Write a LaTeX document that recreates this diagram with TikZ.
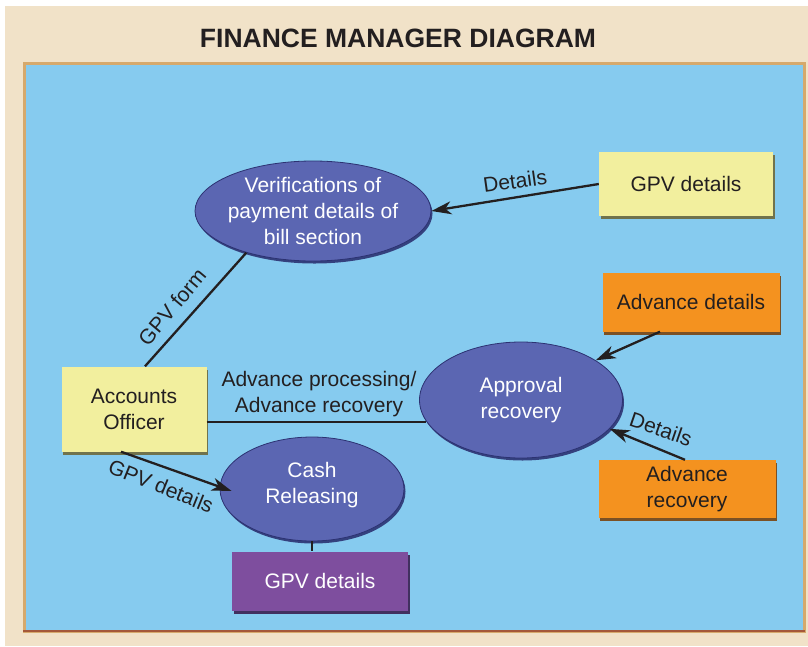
\documentclass[tikz,border=0pt]{standalone}
\usepackage{fontspec}
\setmainfont{Liberation Sans}
\usetikzlibrary{arrows.meta,shapes.geometric,shadows}
\definecolor{beige}{HTML}{F1E2C8}
\definecolor{panelblue}{HTML}{86CBEF}
\definecolor{paneledge}{HTML}{D6A96C}
\definecolor{paneldark}{HTML}{A4583A}
\definecolor{ellfill}{HTML}{5B66B2}
\definecolor{ellshade}{HTML}{2C3272}
\definecolor{yellowbox}{HTML}{F2EF9E}
\definecolor{yellowshade}{HTML}{6E6A3C}
\definecolor{orangebox}{HTML}{F4921F}
\definecolor{orangeshade}{HTML}{7A4410}
\definecolor{purplebox}{HTML}{7E4E9E}
\definecolor{purpleshade}{HTML}{3A2050}
\definecolor{ink}{HTML}{231F20}
\tikzset{
  ell/.style={ellipse, inner sep=0pt, fill=ellfill, draw=ellshade, line width=0.8pt,
    drop shadow={shadow xshift=1.5pt, shadow yshift=-2.5pt, fill=ellshade, opacity=0.9}},
  elltext/.style={text=white, align=center, font=\fontsize{21}{26}\selectfont, inner sep=0pt},
  box/.style={rectangle, inner sep=0pt, align=center, text=ink,
    font=\fontsize{21}{26}\selectfont},
  ybox/.style={box, fill=yellowbox,
    drop shadow={shadow xshift=1.5pt, shadow yshift=-3pt, fill=yellowshade, opacity=0.9}},
  obox/.style={box, fill=orangebox,
    drop shadow={shadow xshift=1.5pt, shadow yshift=-3pt, fill=orangeshade, opacity=0.9}},
  pbox/.style={box, fill=purplebox, text=white,
    drop shadow={shadow xshift=1.5pt, shadow yshift=-3pt, fill=purpleshade, opacity=0.9}},
  conn/.style={draw=ink, line width=2.3pt},
  arr/.style={conn, -{Stealth[length=20pt, width=13pt, inset=6pt]}},
  lbl/.style={text=ink, font=\fontsize{21}{26}\selectfont, align=center, inner sep=0pt},
  titlestyle/.style={text=ink, font=\fontsize{26.5}{30}\selectfont\bfseries, inner sep=0pt}
}
\begin{document}
\begin{tikzpicture}[x=1pt, y=-1pt]
\useasboundingbox (0,0) rectangle (808,646);
\fill[white] (0,0) rectangle (808,646);
\fill[beige] (5,6) rectangle (808,646);
\node[titlestyle] (title) at (398,38) {FINANCE MANAGER DIAGRAM};
\fill[panelblue, draw=paneledge, line width=3pt] (24,63) rectangle (804,631);
\draw[paneldark, line width=2.5pt] (23,631) -- (805,631);

% ellipses
\node[ell, minimum width=236pt, minimum height=100pt,
  label={[elltext]center:Verifications of\\payment details of\\bill section}] (ver) at (313,211) {};
\node[ell, minimum width=203pt, minimum height=116pt,
  label={[elltext]center:Approval\\recovery}] (app) at (521,400) {};
\node[ell, minimum width=184pt, minimum height=104pt,
  label={[elltext, yshift=4pt]center:Cash\\Releasing}] (cash) at (312,489) {};

% boxes
\node[ybox, minimum width=174pt, minimum height=64pt] (gpv1) at (686,184) {GPV details};
\node[obox, minimum width=177pt, minimum height=59pt] (advd) at (691,302) {Advance details};
\node[obox, minimum width=177pt, minimum height=58pt] (advr) at (687,489) {Advance\\recovery};
\node[ybox, minimum width=145pt, minimum height=85pt] (acc) at (134,409) {Accounts\\Officer};
\node[pbox, minimum width=176pt, minimum height=59pt] (gpv2) at (320,581) {GPV details};

% connectors
\draw[arr] (gpv1.west) -- (ver.east);
\node[lbl, rotate=8] (l1) at (515,181) {Details};

\draw[conn] ([xshift=11pt]acc.north) -- (ver.212);
\node[lbl, rotate=50] (l2) at (172,307) {GPV form};

\draw[conn] (acc.east |- app.193) -- (app.193);
\node[lbl] (l3) at (319,394) {Advance processing/\\Advance recovery};

\draw[arr] ([xshift=-13pt]acc.south) -- ([xshift=12pt,yshift=-2pt]cash.west);
\node[lbl, rotate=-22] (l4) at (161,486) {GPV details};

\draw[conn] (cash.south) -- (cash.south |- gpv2.north);

\draw[arr] ([xshift=-31pt]advd.south) -- (app.28);

\draw[arr] ([xshift=-2pt]advr.north) -- (app.-18);
\node[lbl, rotate=-19] (l5) at (661,429) {Details};
\end{tikzpicture}
\end{document}
